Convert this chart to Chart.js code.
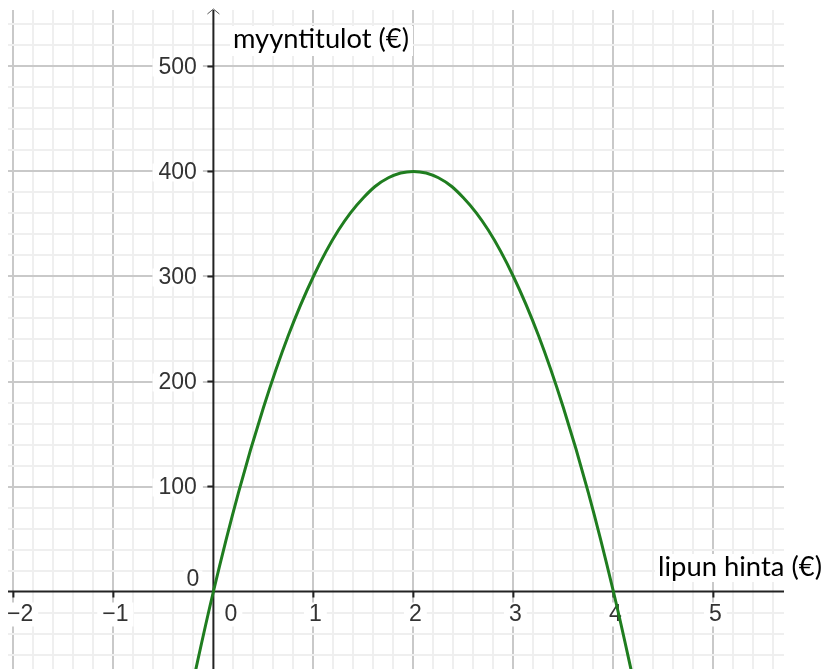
<!DOCTYPE html>
<html><head><meta charset="utf-8">
<script src="https://cdn.jsdelivr.net/npm/chart.js@4/dist/chart.umd.min.js"></script>
<style>html,body{margin:0;padding:0;background:#fff}#wrap{width:824px;height:669px;position:relative}</style>
</head><body><div id="wrap"><canvas id="c"></canvas></div>
<script>
// curve samples: ticket price (€) -> sales revenue (€)
const priceX   = [-0.25, 0, 0.25, 0.5, 0.75, 1, 1.25, 1.5, 1.75, 2, 2.25, 2.5, 2.75, 3, 3.25, 3.5, 3.75, 4, 4.25];
const revenueY = [-106, 0, 94, 175, 244, 300, 344, 375, 394, 400, 394, 375, 344, 300, 244, 175, 94, 0, -106];

const xTickValues = [-2, -1, 0, 1, 2, 3, 4, 5];
const xTickLabels = ['\u22122', '\u22121', '0', '1', '2', '3', '4', '5'];
const yTickValues = [0, 100, 200, 300, 400, 500];
const yTickLabels = ['0', '100', '200', '300', '400', '500'];

const xTitle = 'lipun hinta (\u20ac)';
const yTitle = 'myyntitulot (\u20ac)';

const xMin = -2.054, xMax = 5.706;
const yMin = -73.8, yMax = 553.8;
const xMinorStep = 0.2, yMinorStep = 20;

function minorValues(lo, hi, step) {
  const out = [];
  for (let i = Math.ceil(lo / step); i * step <= hi; i++) out.push(Math.round(i * step * 1000) / 1000);
  return out;
}
function isMajor(v, unit) { return Math.abs(v / unit - Math.round(v / unit)) < 1e-6; }

const gridColor = unit => ctx => {
  const v = ctx.tick ? ctx.tick.value : NaN;
  if (Math.abs(v) < 1e-9) return 'rgba(0,0,0,0)';
  return isMajor(v, unit) ? '#c9c9c9' : '#efefef';
};

const TICK_FONT = '23px "Liberation Sans", Arial, sans-serif';
const TITLE_FAMILY = 'Lato, "Open Sans", sans-serif';

const axesPlugin = {
  id: 'ggbAxes',
  beforeDatasetsDraw(chart) {
    const { ctx, chartArea: a, scales: { x, y } } = chart;
    const x0 = x.getPixelForValue(0), y0 = y.getPixelForValue(0);
    ctx.save();
    ctx.font = TICK_FONT;
    const labels = [];
    xTickValues.forEach((v, i) => {
      const txt = xTickLabels[i];
      const w = ctx.measureText(txt).width;
      let cx = v === 0 ? x0 + 17.5 : x.getPixelForValue(v) + 2;
      let left = cx - w / 2;
      if (left < a.left - 1) left = a.left - 1;
      labels.push({ txt, left, cy: 614.5, w, padX: 5, padY: 12 });
    });
    yTickValues.forEach((v, i) => {
      const txt = yTickLabels[i];
      const w = ctx.measureText(txt).width;
      const right = v === 0 ? x0 - 14 : x0 - 16.5;
      const cy = v === 0 ? y0 - 12 : y.getPixelForValue(v) + 1;
      labels.push({ txt, left: right - w, cy, w, padX: v === 0 ? 3 : 6, padY: 9 });
    });
    ctx.fillStyle = '#ffffff';
    labels.forEach(l => ctx.fillRect(l.left - l.padX, l.cy - l.padY, l.w + 2 * l.padX, 2 * l.padY));

    function fitFont(txt, target, base) {
      ctx.font = base + 'px ' + TITLE_FAMILY;
      const w = ctx.measureText(txt).width;
      return base * target / w;
    }
    const ySize = fitFont(yTitle, 176, 24);
    const xSize = fitFont(xTitle, 164, 24);
    ctx.fillStyle = '#ffffff';
    ctx.fillRect(230, 26, 183, 30);
    ctx.fillRect(655, 554, 169, 28);

    ctx.strokeStyle = '#222222';
    ctx.lineWidth = 2;
    ctx.beginPath();
    ctx.moveTo(a.left, y0); ctx.lineTo(a.right, y0);
    ctx.moveTo(x0, a.top); ctx.lineTo(x0, a.bottom);
    xTickValues.forEach(v => { if (v !== 0) { const px = x.getPixelForValue(v); ctx.moveTo(px, y0); ctx.lineTo(px, y0 + 6); } });
    yTickValues.forEach(v => { if (v !== 0) { const py = y.getPixelForValue(v); ctx.moveTo(x0, py); ctx.lineTo(x0 - 6, py); } });
    ctx.stroke();
    ctx.lineWidth = 1;
    ctx.strokeStyle = '#555555';
    ctx.beginPath();
    ctx.moveTo(x0 - 6, a.top + 4); ctx.lineTo(x0, a.top - 1); ctx.lineTo(x0 + 6, a.top + 4);
    ctx.stroke();

    ctx.font = TICK_FONT;
    ctx.fillStyle = '#333333';
    ctx.textAlign = 'left';
    ctx.textBaseline = 'middle';
    labels.forEach(l => ctx.fillText(l.txt, l.left, l.cy));

    ctx.fillStyle = '#000000';
    ctx.textBaseline = 'alphabetic';
    ctx.font = ySize + 'px ' + TITLE_FAMILY;
    ctx.fillText(yTitle, 233, 48);
    ctx.font = xSize + 'px ' + TITLE_FAMILY;
    ctx.fillText(xTitle, 658, 576);
    ctx.restore();
  }
};

new Chart(document.getElementById('c'), {
  type: 'scatter',
  data: {
    datasets: [{
      data: priceX.map((v, i) => ({ x: v, y: revenueY[i] })),
      showLine: true,
      borderColor: '#1f7d1f',
      borderWidth: 3,
      pointRadius: 0,
      tension: 0.4,
      fill: false
    }]
  },
  options: {
    responsive: true,
    maintainAspectRatio: false,
    animation: false,
    layout: { padding: { left: 8, top: 10, right: 40, bottom: 0 } },
    plugins: { legend: { display: false }, tooltip: { enabled: false } },
    scales: {
      x: {
        type: 'linear', min: xMin, max: xMax,
        afterBuildTicks: s => { s.ticks = minorValues(xMin, xMax, xMinorStep).map(v => ({ value: v })); },
        ticks: { display: false },
        grid: { drawTicks: false, color: gridColor(1), lineWidth: 2 },
        border: { display: false }
      },
      y: {
        type: 'linear', min: yMin, max: yMax,
        afterBuildTicks: s => { s.ticks = minorValues(yMin, yMax, yMinorStep).map(v => ({ value: v })); },
        ticks: { display: false },
        grid: { drawTicks: false, color: gridColor(100), lineWidth: 2 },
        border: { display: false }
      }
    }
  },
  plugins: [axesPlugin]
});
</script>
</body></html>
